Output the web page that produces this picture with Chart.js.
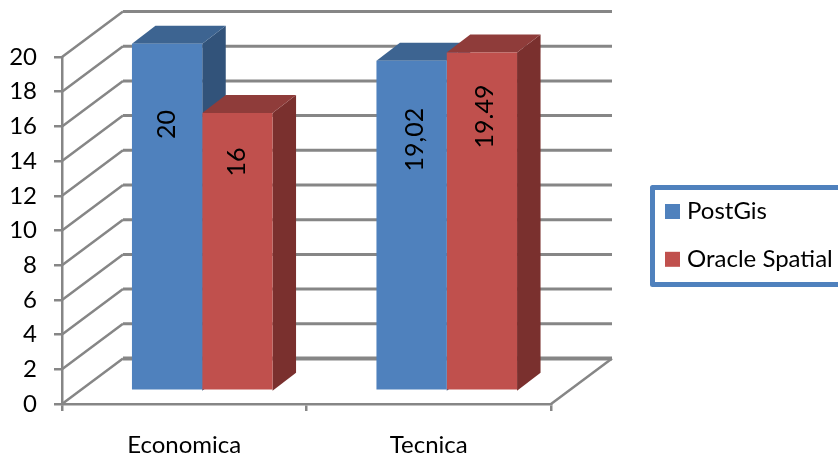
<!DOCTYPE html>
<html>
<head>
<meta charset="utf-8">
<style>
  html, body { margin: 0; padding: 0; background: #fff; overflow: hidden; }
  canvas { display: block; }
</style>
<script src="https://cdn.jsdelivr.net/npm/chart.js@4.5.1/dist/chart.umd.min.js"></script>
</head>
<body>
<canvas id="chart" width="838" height="457" style="width:838px;height:457px"></canvas>
<script>
const categories = ['Economica', 'Tecnica'];
const postgisValues = [20, 19.02];
const oracleValues = [16, 19.49];
const postgisLabels = ['20', '19,02'];
const oracleLabels = ['16', '19.49'];
const seriesNames = ['PostGis', 'Oracle Spatial'];

const FONT = 'Lato, "Open Sans", sans-serif';
const GRID = '#868686';

// box depth and how far the bars stand off the front plane
const wall = { dx: 61, dy: 45.5 };
const inset = { dx: 18, dy: 13.3 };
const depth = { dx: 23.5, dy: 18 };

// per series: front, top and side face colours; label height in axis units and sideways nudge in px
const faces = [
  { front: '#4f81bd', top: '#3d6491', side: '#32537a', labelAt: [16.11, 15.24], nudge: [0, 3], labels: postgisLabels },
  { front: '#c0504d', top: '#8f3c3a', side: '#7a302e', labelAt: [13.95, 16.57], nudge: [0, 3], labels: oracleLabels }
];

function poly(ctx, pts, fill) {
  ctx.beginPath();
  pts.forEach((p, i) => i ? ctx.lineTo(p[0], p[1]) : ctx.moveTo(p[0], p[1]));
  ctx.closePath();
  ctx.fillStyle = fill;
  ctx.fill();
}

const box3d = {
  id: 'box3d',
  beforeDatasetsDraw(chart) {
    const { ctx, chartArea: a, scales: { y } } = chart;
    // back wall and side wall gridlines
    ctx.save();
    ctx.strokeStyle = GRID;
    y.ticks.forEach(t => {
      const py = y.getPixelForValue(t.value);
      ctx.lineWidth = 2.5;
      ctx.beginPath();
      ctx.moveTo(a.left, py);
      ctx.lineTo(a.left + wall.dx, py - wall.dy);
      ctx.stroke();
      ctx.lineWidth = t.value === 0 ? 4 : 3;
      ctx.beginPath();
      ctx.moveTo(a.left + wall.dx, py - wall.dy);
      ctx.lineTo(a.right + wall.dx, py - wall.dy);
      ctx.stroke();
    });
    // floor edges
    ctx.lineWidth = 2.5;
    ctx.beginPath();
    ctx.moveTo(a.right, a.bottom);
    ctx.lineTo(a.right + wall.dx, a.bottom - wall.dy);
    ctx.stroke();
    ctx.restore();

    // top and side faces go under the fronts
    const y0 = y.getPixelForValue(0) - inset.dy;
    faces.forEach((f, i) => {
      chart.getDatasetMeta(i).data.forEach(bar => {
        const l = bar.x - bar.width / 2 + inset.dx;
        const r = bar.x + bar.width / 2 + inset.dx;
        const t = bar.y - inset.dy;
        poly(ctx, [[r, t], [r + depth.dx, t - depth.dy], [r + depth.dx, y0 - depth.dy], [r, y0]], f.side);
        poly(ctx, [[l, t], [l + depth.dx, t - depth.dy], [r + depth.dx, t - depth.dy], [r, t]], f.top);
      });
    });

    ctx.save();
    ctx.translate(inset.dx, -inset.dy);
  },
  afterDatasetsDraw(chart) {
    const { ctx, scales: { y } } = chart;
    ctx.restore();

    // value labels, rotated
    ctx.save();
    ctx.fillStyle = '#000';
    ctx.font = '25px ' + FONT;
    ctx.textAlign = 'center';
    ctx.textBaseline = 'middle';
    faces.forEach((f, i) => {
      chart.getDatasetMeta(i).data.forEach((bar, j) => {
        ctx.save();
        ctx.translate(bar.x + inset.dx + f.nudge[j], y.getPixelForValue(f.labelAt[j]));
        ctx.rotate(-Math.PI / 2);
        ctx.fillText(f.labels[j], 0, 0);
        ctx.restore();
      });
    });
    ctx.restore();
  },
  afterDraw(chart) {
    const { ctx } = chart;
    // legend box runs off the right edge
    ctx.save();
    ctx.strokeStyle = '#4f81bd';
    ctx.lineWidth = 5;
    ctx.lineJoin = 'round';
    ctx.strokeRect(652.5, 187.5, 200, 97);
    ctx.font = '24px ' + FONT;
    ctx.textBaseline = 'middle';
    ctx.textAlign = 'left';
    chart.data.datasets.forEach((ds, i) => {
      const cy = 211.5 + i * 47.8;
      ctx.fillStyle = ds.backgroundColor;
      ctx.fillRect(665, cy - 7.5, 15, 15);
      ctx.fillStyle = '#000';
      ctx.fillText(ds.label, 687, cy);
    });
    ctx.restore();
  }
};

new Chart(document.getElementById('chart'), {
  type: 'bar',
  data: {
    labels: categories,
    datasets: [
      { label: seriesNames[0], data: postgisValues, backgroundColor: faces[0].front },
      { label: seriesNames[1], data: oracleValues, backgroundColor: faces[1].front }
    ]
  },
  plugins: [box3d],
  options: {
    responsive: false,
    animation: false,
    layout: { padding: { left: 0, top: 57, right: 287, bottom: 0 } },
    datasets: { bar: { barPercentage: 1, categoryPercentage: 0.575, borderWidth: 0, clip: false } },
    plugins: { legend: { display: false }, tooltip: { enabled: false } },
    scales: {
      x: {
        afterFit: s => { s.height = 53; },
        grid: { offset: true, drawOnChartArea: false, color: GRID, tickColor: GRID, lineWidth: 2.5, tickWidth: 2.5, tickLength: 7 },
        border: { color: GRID, width: 2.5 },
        ticks: { color: '#000', padding: 20, font: { family: FONT, size: 24 }, maxRotation: 0 }
      },
      y: {
        min: 0,
        max: 20,
        afterFit: s => { s.width = 62; },
        grid: { drawOnChartArea: false, color: GRID, tickColor: GRID, lineWidth: 2.5, tickWidth: 2.5, tickLength: 8 },
        border: { color: GRID, width: 2.5 },
        ticks: { stepSize: 2, color: '#000', padding: 17, font: { family: FONT, size: 24 } }
      }
    }
  }
});
</script>
</body>
</html>
